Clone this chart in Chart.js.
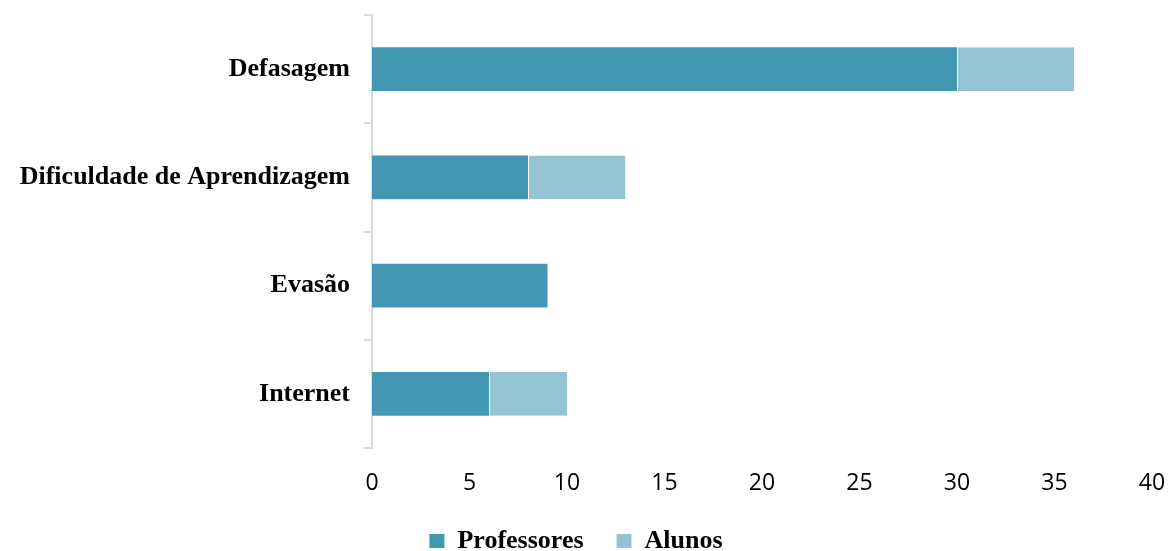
<!DOCTYPE html>
<html>
<head>
<meta charset="utf-8">
<script src="https://cdn.jsdelivr.net/npm/chart.js@4"></script>
<style>
  html, body { margin: 0; padding: 0; background: #fff; }
  #wrap { width: 1173px; height: 551px; }
</style>
</head>
<body>
<div id="wrap"><canvas id="barChart" width="1173" height="551"></canvas></div>
<script>
const categories = ['Defasagem', 'Dificuldade de Aprendizagem', 'Evasão', 'Internet'];
const professores = [30, 8, 9, 6];
const alunos = [6, 5, 0, 4];
const xTicks = { min: 0, max: 40, step: 5 };

const barChartCtx = document.getElementById('barChart').getContext('2d');

const barChart = new Chart(barChartCtx, {
    type: 'bar',
    data: {
        labels: categories,
        datasets: [{
            label: 'Professores',
            data: professores,
            backgroundColor: '#4298B0',
            borderWidth: 0,
            categoryPercentage: 1,
            barPercentage: 0.405
        }, {
            label: 'Alunos',
            data: alunos,
            backgroundColor: '#93C3D4',
            borderColor: 'rgba(255, 255, 255, 0.7)',
            borderWidth: { left: 1, right: 0, top: 0, bottom: 0 },
            borderSkipped: false,
            categoryPercentage: 1,
            barPercentage: 0.405
        }]
    },
    options: {
        indexAxis: 'y',
        responsive: false,
        animation: false,
        layout: {
            // negative bottom pulls the legend down, like the original
            padding: { top: 15, right: 21, left: 0, bottom: -13 }
        },
        plugins: {
            tooltip: { enabled: false },
            legend: {
                position: 'bottom',
                labels: {
                    color: '#000',
                    boxWidth: 15,
                    boxHeight: 14,
                    padding: 33,
                    font: { family: 'Liberation Serif', size: 26, weight: 'bold' }
                }
            }
        },
        scales: {
            x: {
                stacked: true,
                min: xTicks.min,
                max: xTicks.max,
                grid: { display: false, drawTicks: false },
                border: { display: false },
                ticks: {
                    stepSize: xTicks.step,
                    color: '#000',
                    padding: 24,
                    font: { family: 'Open Sans', size: 23, lineHeight: 1 }
                },
                afterFit: (scale) => {
                    scale.height = 47;
                    scale.paddingLeft = 0;
                    scale.paddingRight = 0;
                }
            },
            y: {
                stacked: true,
                grid: {
                    drawOnChartArea: false,
                    tickLength: 8,
                    color: '#D9D9D9',
                    lineWidth: 2
                },
                border: { color: '#D9D9D9', width: 2 },
                ticks: {
                    color: '#000',
                    padding: 14,
                    font: { family: 'Liberation Serif', size: 26, weight: 'bold' }
                },
                afterFit: (scale) => {
                    scale.width = 372;
                    scale.paddingTop = 0;
                    scale.paddingBottom = 0;
                }
            }
        }
    }
});
</script>
</body>
</html>
